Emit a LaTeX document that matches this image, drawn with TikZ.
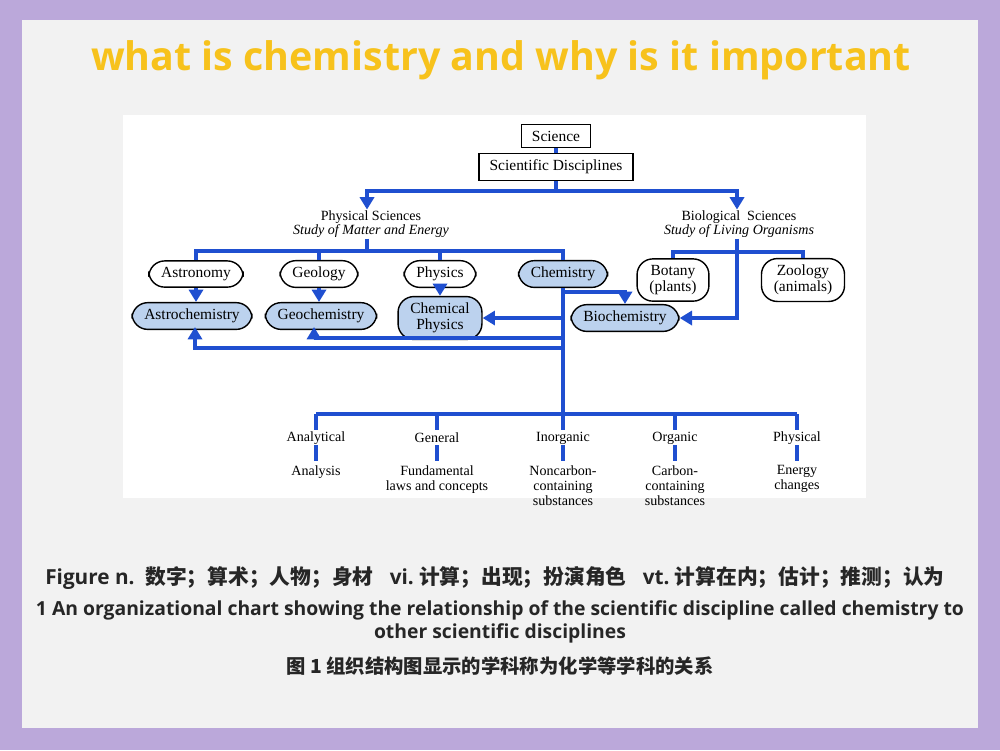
\documentclass[tikz,border=0pt]{standalone}
\usepackage{fontspec}
\setmainfont{Liberation Serif}
\newfontfamily\capfont{Open Sans}
\newfontfamily\cjk{Noto Sans CJK SC}
\usetikzlibrary{arrows.meta}
\definecolor{lineblue}{HTML}{1F4FD0}
\definecolor{boxblue}{HTML}{BCD2EE}
\definecolor{frame}{HTML}{BBA8DA}
\definecolor{titlegold}{HTML}{F7C21C}
\tikzset{
  box/.style={draw, thin, fill=white, inner xsep=3pt, inner ysep=1.8pt, font=\fontsize{4.4}{5}\selectfont},
  oval/.style={draw, thin, fill=white, rounded corners=4.5pt, inner xsep=3.5pt, inner ysep=1.8pt, font=\fontsize{4.4}{4.6}\selectfont, align=center},
  chem/.style={oval, fill=boxblue},
  lbl/.style={font=\fontsize{4}{4.2}\selectfont, align=center, inner sep=0pt},
  link/.style={draw=lineblue, line width=1.1pt},
  arr/.style={link, -{Triangle[length=3.5pt,width=4pt]}},
  captext/.style={font=\capfont\bfseries\fontsize{5.5}{6.6}\selectfont, text=black!85, align=center}
}
\begin{document}
\begin{tikzpicture}[x=0.01cm, y=-0.01cm]
\useasboundingbox (0,0) rectangle (1000,750);
\fill[frame] (0,0) rectangle (1000,750);
\fill[black!5!white] (22,20) rectangle (978,728);
\fill[white] (123,115) rectangle (866,498);
\node[font=\capfont\bfseries\fontsize{11.2}{12}\selectfont, text=titlegold] (title) at (501,60) {what is chemistry and why is it important};
% top of the chart
\node[box] (sci) at (556,136) {Science};
\node[box] (disc) at (556,167) {Scientific Disciplines};
\node[lbl] (phys) at (371,224) {Physical Sciences\\\textit{Study of Matter and Energy}};
\node[lbl] (bio) at (739,224) {Biological\ \ Sciences\\\textit{Study of Living Organisms}};
\draw[link] (sci) -- (disc);
\coordinate (split) at (556,191);
\coordinate (pstem) at (367,191);
\coordinate (bstem) at (737,191);
\draw[link] (disc) -- (split);
\draw[arr] (split) -- (pstem) -- (pstem|-phys.north);
\draw[arr] (split) -- (bstem) -- (bstem|-bio.north);
% physical sciences
\node[oval] (astro) at (196,274) {Astronomy};
\node[oval] (geo) at (319,274) {Geology};
\node[oval] (physics) at (440,274) {Physics};
\node[chem] (chem) at (563,274) {Chemistry};
\coordinate (pbar) at (367,251);
\draw[link] (pbar|-phys.south) -- (pbar);
\foreach \n in {astro,geo,physics,chem}
  \draw[link] (pbar) -| (\n.north);
\node[oval] (botany) at (673,280) {Botany\\(plants)};
\node[oval] (zoo) at (803,280) {Zoology\\(animals)};
\coordinate (bbar) at (737,252);
\draw[link] (bbar|-bio.south) -- (bbar);
\draw[link] (bbar) -| (botany.north);
\draw[link] (bbar) -| (zoo.north);
% derived fields
\node[chem] (astroc) at (192,316) {Astrochemistry};
\node[chem] (geoc) at (321,316) {Geochemistry};
\node[chem] (chemp) at (440,318) {Chemical\\Physics};
\node[chem] (bioc) at (625,318) {Biochemistry};
\draw[arr] (astro) -- (astro|-astroc.north);
\draw[arr] (geo) -- (geo|-geoc.north);
\draw[arr] (physics) -- (chemp);
\coordinate (bturn) at (737,318);
\draw[arr] (bbar) -- (bturn) -- (bioc.east);
\coordinate (cdown) at (563,414);
\draw[link] (chem.south) -- (cdown);
\coordinate (c1) at (563,292);
\draw[arr] (c1) -| (bioc.north);
\draw[arr] (563,318) -- (chemp.east);
\draw[arr] (563,338) -| (314,327);
\draw[arr] (563,348) -| (195,327);
% branches of chemistry
\coordinate (lbar) at (316,414);
\coordinate (rbar) at (797,414);
\draw[link] (lbar) -- (rbar);
\foreach \x/\n/\top/\bot in {316/ana/Analytical/Analysis,
    437/gen/General/{Fundamental\\laws and concepts},
    563/inorg/Inorganic/{Noncarbon-\\containing\\substances},
    675/org/Organic/{Carbon-\\containing\\substances},
    797/phch/Physical/{Energy\\changes}} {
  \draw[link] (\x,414) -- (\x,430);
  \node[lbl] (\n) at (\x,438) {\top};
  \node[lbl, anchor=north] (\n b) at (\x,465) {\bot};
  \draw[link] (\x,445) -- (\x,461);
}
% caption
\node[captext, font=\capfont\bfseries\fontsize{5.9}{7}\selectfont] (c1t) at (495,578) {Figure n.\ \ {\cjk\bfseries 数字；算术；人物；身材}\ \ \ vi.\ {\cjk\bfseries 计算；出现；扮演角色}\ \ \ vt.\ {\cjk\bfseries 计算在内；估计；推测；认为}};
\node[captext] (c2t) at (500,622) {1 An organizational chart showing the relationship of the scientific discipline called chemistry to\\other scientific disciplines};
\node[captext] (c3t) at (500,666) {\cjk\bfseries 图 1 组织结构图显示的学科称为化学等学科的关系};
\end{tikzpicture}
\end{document}
